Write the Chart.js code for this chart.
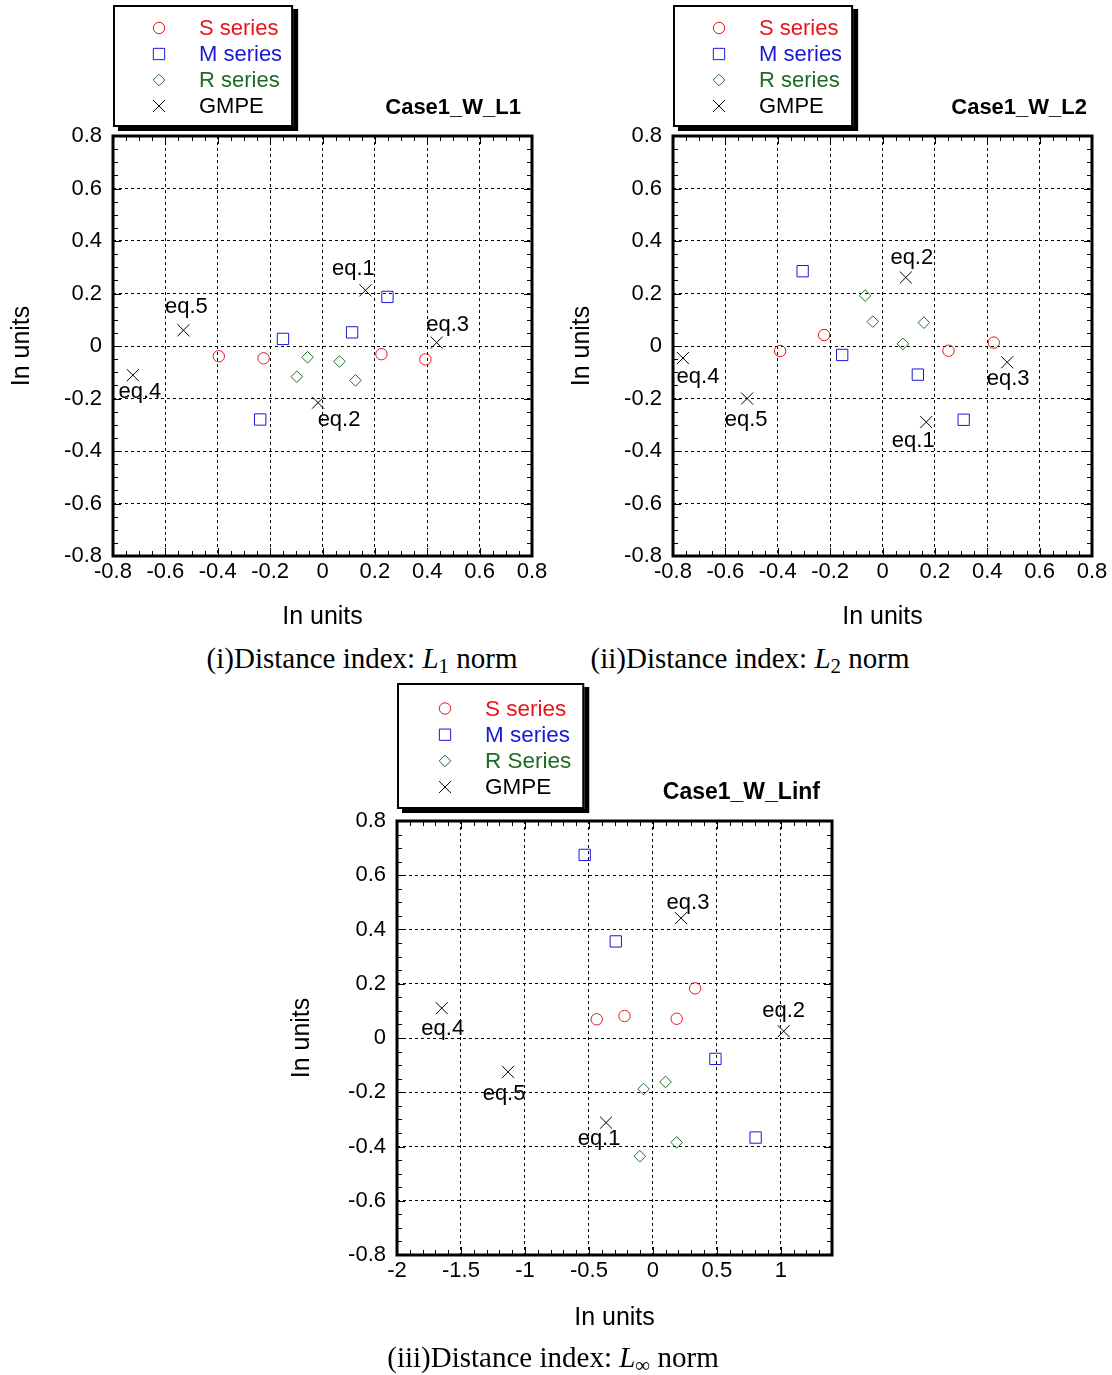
<!DOCTYPE html>
<html><head><meta charset="utf-8">
<script src="https://cdn.jsdelivr.net/npm/chart.js@4.4.1/dist/chart.umd.min.js"></script>
<style>
html,body{margin:0;padding:0;background:#fff;}
body{width:1112px;height:1375px;position:relative;overflow:hidden;}
canvas{position:absolute;}
.cap{position:absolute;font-family:"Liberation Serif","Times New Roman",serif;font-size:29px;color:#000;white-space:nowrap;transform:translate(-50%,-50%);line-height:1;}
.cap i{font-style:italic;}
.cap sub{font-size:0.72em;vertical-align:-0.28em;line-height:0;}
</style></head><body>
<canvas id="c1" width="556" height="640" style="left:0;top:0"></canvas>
<canvas id="c2" width="552" height="640" style="left:560px;top:0"></canvas>
<canvas id="c3" width="580" height="661" style="left:280px;top:680px"></canvas>
<div class="cap" style="left:362px;top:658px">(i)Distance index: <i>L</i><sub>1</sub> norm</div>
<div class="cap" style="left:750px;top:658px">(ii)Distance index: <i>L</i><sub>2</sub> norm</div>
<div class="cap" style="left:553px;top:1357px">(iii)Distance index: <i>L</i><sub>∞</sub> norm</div>
<script>
// ---------- data ----------
const SERIES_LABELS_12 = ['S series', 'M series', 'R series', 'GMPE'];
const SERIES_LABELS_3 = ['S series', 'M series', 'R Series', 'GMPE'];
const GMPE_NAMES = ['eq.1', 'eq.2', 'eq.3', 'eq.4', 'eq.5'];
const CHART_TITLES = ['Case1_W_L1', 'Case1_W_L2', 'Case1_W_Linf'];
const AXIS_TITLE = 'In units';

const TICKS_08 = [-0.8, -0.6, -0.4, -0.2, 0, 0.2, 0.4, 0.6, 0.8];
const TICK_LABELS_08 = ['-0.8', '-0.6', '-0.4', '-0.2', '0', '0.2', '0.4', '0.6', '0.8'];
const X_TICKS_3 = [-2, -1.5, -1, -0.5, 0, 0.5, 1];
const X_TICK_LABELS_3 = ['-2', '-1.5', '-1', '-0.5', '0', '0.5', '1'];

// (i) L1 norm
const L1_S_X = [-0.396, -0.225, 0.225, 0.393];
const L1_S_Y = [-0.039, -0.047, -0.031, -0.051];
const L1_M_X = [-0.151, 0.113, 0.248, -0.238];
const L1_M_Y = [0.027, 0.052, 0.187, -0.280];
const L1_R_X = [-0.057, 0.065, -0.098, 0.126];
const L1_R_Y = [-0.043, -0.059, -0.117, -0.131];
const L1_G_X = [0.164, -0.017, 0.436, -0.724, -0.531];
const L1_G_Y = [0.212, -0.216, 0.013, -0.111, 0.060];

// (ii) L2 norm
const L2_S_X = [-0.391, -0.223, 0.252, 0.425];
const L2_S_Y = [-0.019, 0.042, -0.018, 0.013];
const L2_M_X = [-0.305, -0.154, 0.135, 0.310];
const L2_M_Y = [0.285, -0.034, -0.109, -0.281];
const L2_R_X = [-0.066, -0.037, 0.078, 0.158];
const L2_R_Y = [0.192, 0.093, 0.008, 0.089];
const L2_G_X = [0.167, 0.089, 0.476, -0.762, -0.517];
const L2_G_Y = [-0.290, 0.261, -0.062, -0.046, -0.200];

// (iii) Linf norm
const LI_S_X = [-0.439, -0.222, 0.186, 0.330];
const LI_S_Y = [0.069, 0.081, 0.071, 0.183];
const LI_M_X = [-0.533, -0.290, 0.489, 0.803];
const LI_M_Y = [0.675, 0.356, -0.077, -0.367];
const LI_R_X = [-0.073, 0.099, 0.186, -0.102];
const LI_R_Y = [-0.188, -0.162, -0.385, -0.436];
const LI_G_X = [-0.366, 1.022, 0.220, -1.650, -1.132];
const LI_G_Y = [-0.312, 0.025, 0.442, 0.110, -0.125];

// ---------- styles ----------
const RED = '#e8141c', BLUE = '#1818d8', GREEN = '#1d6b25', BLACK = '#000';
const FONT = '"Liberation Sans", Arial, Helvetica, sans-serif';
Chart.defaults.font.family = FONT;
Chart.defaults.color = '#000';

const zip = (xs, ys) => xs.map((x, i) => ({x: x, y: ys[i]}));

function datasets(labels, sx, sy, mx, my, rx, ry, gx, gy) {
  const base = {backgroundColor: 'rgba(0,0,0,0)', pointBackgroundColor: 'rgba(0,0,0,0)', borderWidth: 1, pointBorderWidth: 1, showLine: false, pointHoverRadius: 0};
  return [
    Object.assign({label: labels[0], data: zip(sx, sy), pointStyle: 'circle', pointRadius: 5.7, borderColor: RED, pointBorderColor: RED}, base),
    Object.assign({label: labels[1], data: zip(mx, my), pointStyle: 'rect', pointRadius: 8, borderColor: BLUE, pointBorderColor: BLUE}, base),
    Object.assign({label: labels[2], data: zip(rx, ry), pointStyle: 'rectRot', pointRadius: 5.8, borderColor: GREEN, pointBorderColor: GREEN}, base),
    Object.assign({label: labels[3], data: zip(gx, gy), pointStyle: 'crossRot', pointRadius: 8.5, borderColor: BLACK, pointBorderColor: BLACK}, base)
  ];
}

const LEGEND_COLORS = [RED, BLUE, GREEN, BLACK];

const decorPlugin = {
  id: 'decor',
  afterDraw(chart, args, o) {
    const ctx = chart.ctx, ca = chart.chartArea;
    const xs = chart.scales.x, ys = chart.scales.y;
    ctx.save();
    // minor / major inward ticks
    ctx.strokeStyle = '#000';
    ctx.lineWidth = 1;
    ctx.beginPath();
    const nx = Math.round((xs.max - xs.min) / o.xMinor);
    for (let k = 0; k <= nx; k++) {
      const v = xs.min + k * o.xMinor;
      const p = Math.round(xs.getPixelForValue(v)) + 0.5;
      const isMaj = Math.abs(v / o.xMajor - Math.round(v / o.xMajor)) < 1e-6;
      const L = isMaj ? 8 : 5;
      ctx.moveTo(p, ca.bottom); ctx.lineTo(p, ca.bottom - L);
      ctx.moveTo(p, ca.top); ctx.lineTo(p, ca.top + L);
    }
    const ny = Math.round((ys.max - ys.min) / o.yMinor);
    for (let k = 0; k <= ny; k++) {
      const v = ys.min + k * o.yMinor;
      const p = Math.round(ys.getPixelForValue(v)) + 0.5;
      const isMaj = Math.abs(v / o.yMajor - Math.round(v / o.yMajor)) < 1e-6;
      const L = isMaj ? 8 : 5;
      ctx.moveTo(ca.left, p); ctx.lineTo(ca.left + L, p);
      ctx.moveTo(ca.right, p); ctx.lineTo(ca.right - L, p);
    }
    ctx.stroke();
    // frame
    ctx.lineWidth = 3;
    ctx.strokeRect(ca.left, ca.top, ca.right - ca.left, ca.bottom - ca.top);

    // eq labels
    const gMeta = chart.getDatasetMeta(3);
    ctx.font = '22px ' + FONT;
    ctx.fillStyle = '#000';
    ctx.textAlign = 'center';
    ctx.textBaseline = 'middle';
    gMeta.data.forEach((pt, i) => {
      const off = o.labelOffsets[i];
      ctx.fillText(o.names[i], pt.x + off[0], pt.y + off[1]);
    });

    // chart title
    ctx.font = 'bold ' + o.titleSize + 'px ' + FONT;
    ctx.textAlign = 'right';
    ctx.fillText(o.title, ca.right - o.titleInset, ca.top - 28);

    // legend box
    const L = o.legend;
    const bx = ca.left, by = ca.top - L.bottomGap - L.height;
    ctx.font = L.font + 'px ' + FONT;
    let maxW = 0;
    chart.data.datasets.forEach(ds => { maxW = Math.max(maxW, ctx.measureText(ds.label).width); });
    const bw = L.textX + maxW + L.padRight;
    ctx.fillStyle = '#000';
    ctx.fillRect(bx + 5, by + 4, bw, L.height);
    ctx.fillStyle = '#fff';
    ctx.fillRect(bx, by, bw, L.height);
    ctx.lineWidth = 2;
    ctx.strokeStyle = '#000';
    ctx.strokeRect(bx + 1, by + 1, bw - 2, L.height - 2);
    ctx.textAlign = 'left';
    chart.data.datasets.forEach((ds, i) => {
      const cy = by + L.firstRow + i * L.rowGap;
      ctx.save();
      ctx.strokeStyle = ds.borderColor;
      ctx.fillStyle = 'rgba(0,0,0,0)';
      ctx.lineWidth = 1;
      Chart.helpers.drawPoint(ctx, {pointStyle: ds.pointStyle, radius: ds.pointRadius, rotation: 0, borderWidth: 1}, bx + L.markerX, cy);
      ctx.restore();
      ctx.fillStyle = LEGEND_COLORS[i];
      ctx.fillText(ds.label, bx + L.textX, cy + 1);
    });
    ctx.restore();
  }
};

function scaleCfg(axis, min, max, ticks, labels, fitSize) {
  return {
    type: 'linear',
    position: axis === 'x' ? 'bottom' : 'left',
    min: min, max: max,
    afterBuildTicks: s => { s.ticks = ticks.map(v => ({value: v})); },
    afterFit: s => { if (axis === 'x') s.height = fitSize; else s.width = fitSize; },
    ticks: {
      autoSkip: false, maxRotation: 0, minRotation: 0,
      font: {size: 22}, color: '#000',
      padding: axis === 'x' ? 3 : 11,
      callback: (v, i) => labels[i]
    },
    grid: {color: '#000', lineWidth: 1, drawTicks: false},
    border: {display: false, dash: [3, 3]},
    title: {display: true, text: AXIS_TITLE, font: {size: 25}, color: '#000',
      padding: {top: 7, bottom: 8}}
  };
}

function makeChart(id, ds, xr, xTicks, xLabels, yFit, xFit, pad, decor) {
  return new Chart(document.getElementById(id), {
    type: 'scatter',
    data: {datasets: ds},
    plugins: [decorPlugin],
    options: {
      responsive: false, animation: false,
      layout: {padding: pad},
      plugins: {legend: {display: false}, title: {display: false}, tooltip: {enabled: false}, decor: decor},
      scales: {
        x: scaleCfg('x', xr[0], xr[1], xTicks, xLabels, xFit),
        y: scaleCfg('y', -0.8, 0.8, TICKS_08, TICK_LABELS_08, yFit)
      }
    }
  });
}

const LEGEND_12 = {height: 122, bottomGap: 9, firstRow: 23, rowGap: 26, markerX: 46, textX: 86, font: 22, padRight: 11};
const LEGEND_3 = {height: 126, bottomGap: 12, firstRow: 25.5, rowGap: 26.2, markerX: 48, textX: 88, font: 22.5, padRight: 13};

makeChart('c1',
  datasets(SERIES_LABELS_12, L1_S_X, L1_S_Y, L1_M_X, L1_M_Y, L1_R_X, L1_R_Y, L1_G_X, L1_G_Y),
  [-0.8, 0.8], TICKS_08, TICK_LABELS_08, 113, 84,
  {top: 136, right: 24, left: 0, bottom: 0},
  {xMinor: 0.05, xMajor: 0.2, yMinor: 0.05, yMajor: 0.2, names: GMPE_NAMES, title: CHART_TITLES[0], titleSize: 22, titleInset: 11, legend: LEGEND_12,
   labelOffsets: [[-12, -21], [21, 17], [11, -18], [7, 17], [3, -23]]});

makeChart('c2',
  datasets(SERIES_LABELS_12, L2_S_X, L2_S_Y, L2_M_X, L2_M_Y, L2_R_X, L2_R_Y, L2_G_X, L2_G_Y),
  [-0.8, 0.8], TICKS_08, TICK_LABELS_08, 113, 84,
  {top: 136, right: 20, left: 0, bottom: 0},
  {xMinor: 0.05, xMajor: 0.2, yMinor: 0.05, yMajor: 0.2, names: GMPE_NAMES, title: CHART_TITLES[1], titleSize: 22, titleInset: 5, legend: LEGEND_12,
   labelOffsets: [[-13, 19], [6, -20], [1, 17], [15, 19], [-1, 21]]});

makeChart('c3',
  datasets(SERIES_LABELS_3, LI_S_X, LI_S_Y, LI_M_X, LI_M_Y, LI_R_X, LI_R_Y, LI_G_X, LI_G_Y),
  [-2, 1.4], X_TICKS_3, X_TICK_LABELS_3, 117, 86,
  {top: 141, right: 28, left: 0, bottom: 0},
  {xMinor: 0.1, xMajor: 0.5, yMinor: 0.05, yMajor: 0.2, names: GMPE_NAMES, title: CHART_TITLES[2], titleSize: 23, titleInset: 12, legend: LEGEND_3,
   labelOffsets: [[-7, 16], [0, -20], [7, -15], [1, 21], [-4, 22]]});
</script>
</body></html>
